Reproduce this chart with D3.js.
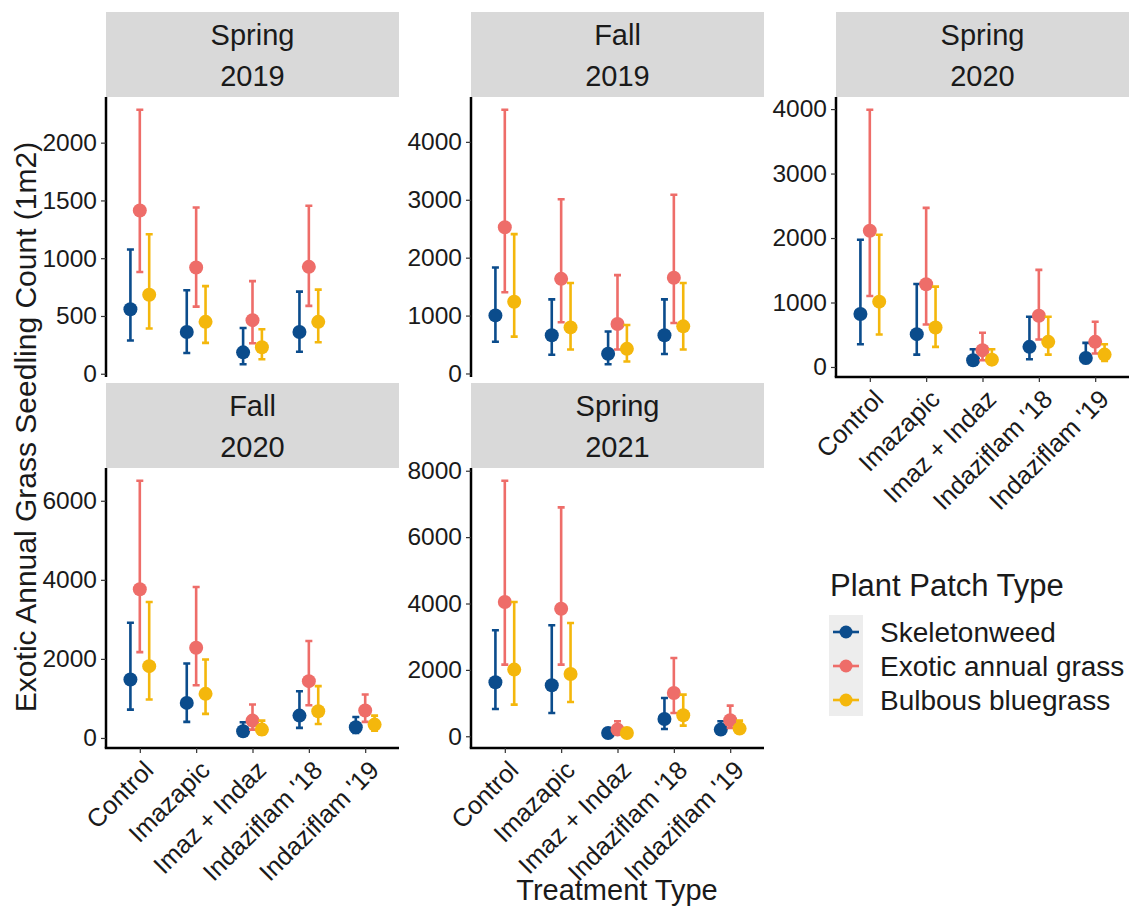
<!DOCTYPE html>
<html>
<head>
<meta charset="utf-8">
<script src="https://cdn.jsdelivr.net/npm/d3@7"></script>
<style>
    body { margin: 0; background: #fff; }
    svg { font-family: "Liberation Sans", Arial, sans-serif; }
</style>
</head>
<body>
<div id="chart"></div>
<script>
// treatments on the x axis (2019 panels have no Indaziflam '19 yet)
const treatments = ["Control", "Imazapic", "Imaz + Indaz", "Indaziflam '18", "Indaziflam '19"];
const seasons = ["Spring", "Fall", "Spring", "Fall", "Spring"];
const years = ["2019", "2019", "2020", "2020", "2021"];
const species = ["Skeletonweed", "Exotic annual grass", "Bulbous bluegrass"];

// one inner array per panel, one value per treatment
const skeletonMean = [[558, 361, 185, 361], [1003, 661, 342, 661], [821, 509, 104, 312, 140], [1479, 887, 169, 566, 270], [1626, 1536, 100, 522, 201]];
const skeletonLow = [[288, 179, 82, 191], [549, 324, 159, 336], [353, 192, 42, 119, 62], [718, 406, 68, 254, 127], [823, 703, 30, 221, 80]];
const skeletonHigh = [[1075, 722, 396, 711], [1829, 1280, 726, 1280], [1974, 1288, 275, 779, 374], [2916, 1885, 397, 1183, 532], [3192, 3343, 180, 1154, 452]];

const grassMean = [[1413, 919, 464, 925], [2525, 1634, 855, 1652], [2114, 1283, 260, 795, 390], [3761, 2282, 439, 1437, 693], [4045, 3844, 201, 1305, 482]];
const grassLow = [[881, 581, 264, 587], [1404, 885, 413, 873], [1101, 660, 104, 426, 208], [2172, 1335, 211, 828, 406], [2158, 2158, 80, 703, 251]];
const grassHigh = [[2285, 1439, 802, 1454], [4555, 3009, 1699, 3086], [3990, 2468, 530, 1506, 701], [6507, 3820, 845, 2451, 1099], [7699, 6896, 452, 2359, 923]];

const bluegrassMean = [[684, 449, 229, 449], [1239, 796, 425, 814], [1013, 613, 114, 390, 192], [1817, 1116, 211, 676, 338], [2008, 1877, 100, 632, 231]];
const bluegrassLow = [[391, 267, 126, 273], [637, 413, 206, 413], [504, 312, 42, 192, 94], [972, 609, 85, 355, 186], [954, 1034, 30, 321, 100]];
const bluegrassHigh = [[1207, 758, 385, 728], [2407, 1563, 838, 1563], [2052, 1247, 275, 779, 353], [3440, 1986, 439, 1310, 566], [4045, 3413, 201, 1255, 472]];

const colors = ["#0b4c8c", "#ee6d69", "#f4b70c"];
const means = [skeletonMean, grassMean, bluegrassMean],
    lows = [skeletonLow, grassLow, bluegrassLow],
    highs = [skeletonHigh, grassHigh, bluegrassHigh];

const W = 1140, H = 913;
const colX = [106, 471, 836], panelW = 293;
const rowY = [12, 383], stripH = 85, plotH = 280;
// panel -> [col, row, hasXAxis]
const layout = [[0, 0, false], [1, 0, false], [2, 0, true], [0, 1, true], [1, 1, true]];

const tickFont = 24.5, xTickFont = 25.5, stripFont = 29;

var svg = d3.select("#chart").append("svg")
    .attr("width", W)
    .attr("height", H);

layout.forEach((l, p) => {
    let left = colX[l[0]], top = rowY[l[1]];
    let g = svg.append("g").attr("transform", "translate(" + left + "," + top + ")");

    // strip
    g.append("rect")
        .attr("width", panelW)
        .attr("height", stripH)
        .attr("fill", "#d9d9d9");
    g.append("text")
        .attr("x", panelW / 2).attr("y", 33)
        .attr("text-anchor", "middle")
        .attr("font-size", stripFont)
        .attr("fill", "#1a1a1a")
        .text(seasons[p]);
    g.append("text")
        .attr("x", panelW / 2).attr("y", 74)
        .attr("text-anchor", "middle")
        .attr("font-size", stripFont)
        .attr("fill", "#1a1a1a")
        .text(years[p]);

    var plot = g.append("g").attr("transform", "translate(0," + stripH + ")");

    // rows for this panel
    let rows = [];
    species.forEach((s, si) => {
        means[si][p].forEach((m, ti) => {
            rows.push({ s: si, t: treatments[ti], mean: m, low: lows[si][p][ti], high: highs[si][p][ti] });
        });
    });

    let lo = d3.min(rows, d => d.low), hi = d3.max(rows, d => d.high);
    let pad = (hi - lo) * 0.05;
    var y = d3.scaleLinear().domain([lo - pad, hi + pad]).range([plotH, 0]);
    var x = d3.scalePoint().domain(treatments).range([0, panelW]).padding(0.6);
    let dodge = x.step() / 6;

    // y axis
    var yAxis = plot.append("g")
        .call(d3.axisLeft(y).ticks(5).tickSize(5).tickPadding(4).tickFormat(d3.format("d")));
    yAxis.select(".domain").attr("stroke-width", 2.5).attr("d", "M0,0V" + plotH);
    yAxis.selectAll(".tick line").attr("stroke", "#333").attr("stroke-width", 1.2);
    yAxis.selectAll(".tick text").attr("font-size", tickFont).attr("fill", "#1a1a1a")
        .attr("font-family", "Liberation Sans, Arial, sans-serif");

    if (l[2]) {
        var xAxis = plot.append("g")
            .attr("transform", "translate(0," + plotH + ")")
            .call(d3.axisBottom(x).tickSize(5).tickSizeOuter(0));
        xAxis.select(".domain").attr("stroke-width", 2.5).attr("d", "M-1.25,0H" + panelW);
        xAxis.selectAll(".tick line").attr("stroke", "#333").attr("stroke-width", 1.2);
        xAxis.selectAll(".tick text")
            .attr("font-size", xTickFont)
            .attr("fill", "#1a1a1a")
            .attr("font-family", "Liberation Sans, Arial, sans-serif")
            .attr("text-anchor", "end")
            .attr("y", 0).attr("dy", "0.71em")
            .attr("transform", "translate(2,11) rotate(-45)");
    }

    // error bars + points
    species.forEach((s, si) => {
        let d = rows.filter(r => r.s === si);
        let cx = r => x(r.t) + (si - 1) * dodge;
        var eb = plot.append("g")
            .attr("stroke", colors[si])
            .attr("stroke-width", 2.6)
            .attr("fill", "none");
        eb.selectAll(".bar").data(d).enter().append("path")
            .attr("d", r => "M" + cx(r) + "," + y(r.low) + "V" + y(r.high) +
                "M" + (cx(r) - 3.5) + "," + y(r.low) + "H" + (cx(r) + 3.5) +
                "M" + (cx(r) - 3.5) + "," + y(r.high) + "H" + (cx(r) + 3.5));
        plot.append("g").selectAll("circle").data(d).enter().append("circle")
            .attr("cx", cx)
            .attr("cy", r => y(r.mean))
            .attr("r", 7)
            .attr("fill", colors[si]);
    });
});

// axis titles
svg.append("text")
    .attr("transform", "translate(36,427) rotate(-90)")
    .attr("text-anchor", "middle")
    .attr("font-size", 30)
    .attr("fill", "#1a1a1a")
    .text("Exotic Annual Grass Seedling Count (1m2)");

svg.append("text")
    .attr("x", 617).attr("y", 900)
    .attr("text-anchor", "middle")
    .attr("font-size", 29)
    .attr("fill", "#1a1a1a")
    .text("Treatment Type");

// legend
var legend = svg.append("g").attr("transform", "translate(829,0)");
legend.append("text")
    .attr("x", 1).attr("y", 596)
    .attr("font-size", 31)
    .attr("fill", "#1a1a1a")
    .text("Plant Patch Type");
legend.append("rect")
    .attr("y", 615).attr("width", 34).attr("height", 101)
    .attr("fill", "#ededed");
species.forEach((s, i) => {
    let cy = 632 + i * 34;
    legend.append("line")
        .attr("x1", 4).attr("x2", 30).attr("y1", cy).attr("y2", cy)
        .attr("stroke", colors[i]).attr("stroke-width", 2.6);
    legend.append("circle")
        .attr("cx", 17).attr("cy", cy).attr("r", 6.5)
        .attr("fill", colors[i]);
    legend.append("text")
        .attr("x", 51).attr("y", cy).attr("dy", "0.35em")
        .attr("font-size", 28)
        .attr("fill", "#1a1a1a")
        .text(s);
});
</script>
</body>
</html>
